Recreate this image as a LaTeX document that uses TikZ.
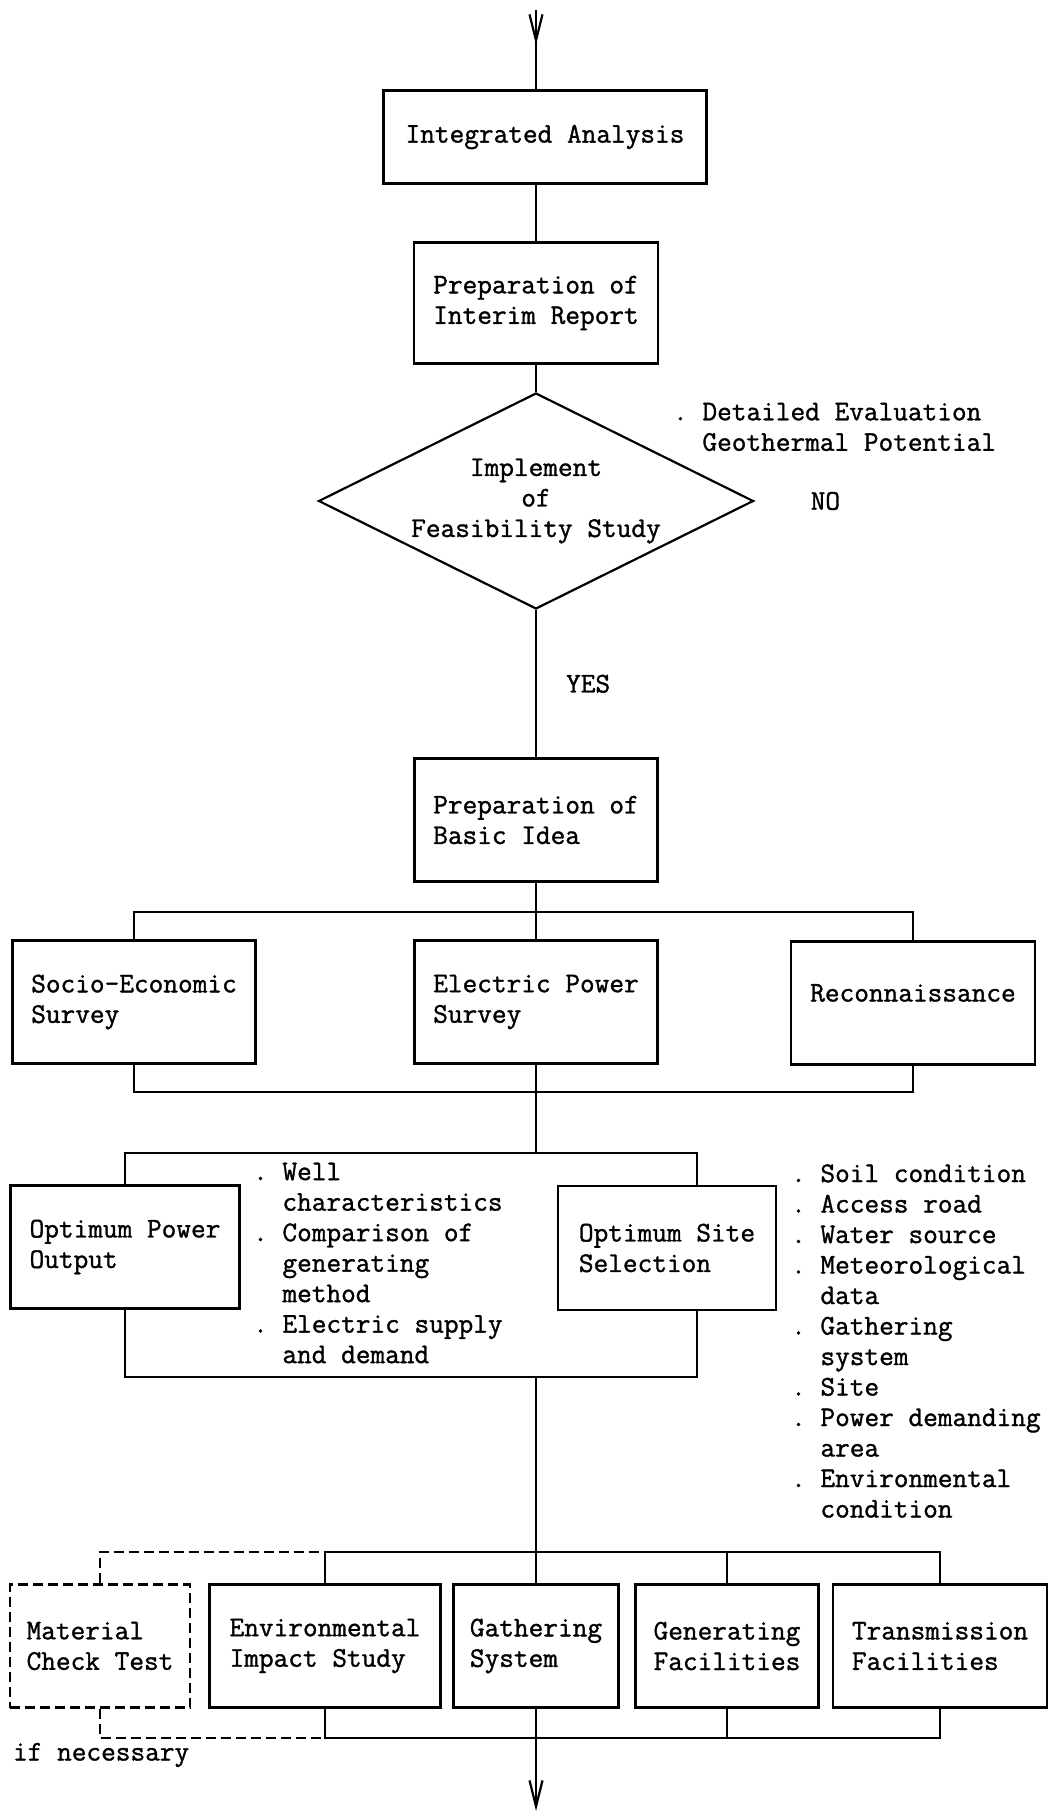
\documentclass[tikz,border=0pt]{standalone}
\usepackage{fontspec}
\setmonofont{Latin Modern Mono}[FakeBold=1.2]
\usepackage{tikz}
\usetikzlibrary{arrows.meta}
\usetikzlibrary{shapes.geometric,positioning}
\usetikzlibrary{decorations.markings}
\newcommand{\indt}{\phantom{.~}}

\begin{document}
\begin{tikzpicture}[x=1pt,y=-1pt,line width=2.2pt,
  every node/.style={inner sep=0pt,font=\ttfamily\fontsize{28.5}{30.5}\selectfont},
  box/.style={draw,rectangle,align=left,minimum height=123pt},
  chkbox/.style={box,dash pattern=on 10pt off 5pt},
  dec/.style={draw,diamond,aspect=2,align=center,minimum width=435pt,minimum height=216pt},
  note/.style={align=left,anchor=west},
  >={Straight Barb[length=26pt,width=13pt]},
  midarrow/.style={postaction={decorate},decoration={markings,mark=at position 0.44 with {\arrow{>}}}}]
\useasboundingbox (0,0) rectangle (1051,1814);
\coordinate (in) at (536,10);
\node[box,minimum width=323pt,minimum height=93pt] (integ) at (545,137) {Integrated Analysis};
\node[box,minimum width=244pt,minimum height=121pt] (interim) at (536,303) {Preparation of\\Interim Report};
\node[dec] (feas) at (536,501) {Implement\\of\\Feasibility Study};
\node[right=55pt of feas.east] (no) {NO};
\node[note] (detl) at (672,427) {.~Detailed Evaluation\\\indt Geothermal Potential};
\node[box,minimum width=243pt] (basic) at (536,820) {Preparation of\\Basic Idea};
% survey row
\coordinate (bus1) at (536,912);
\node[box,minimum width=243pt] (socio) at (134,1002) {Socio-Economic\\Survey};
\node[box,minimum width=243pt] (elec) at (536,1002) {Electric Power\\Survey};
\node[box,minimum width=244pt] (recon) at (913,1003) {\raisebox{10pt}[\height][\depth]{Reconnaissance}};
\coordinate (bus2) at (536,1092);
% optimum row
\coordinate (bus3) at (536,1153);
\node[box,minimum width=229pt] (power) at (125,1247) {Optimum Power\\Output};
\node[box,minimum width=218pt,minimum height=124pt] (site) at (667,1248) {Optimum Site\\Selection};
\coordinate (bus4) at (536,1377);
\node[note] (wellx) at (252,1263) {.~Well\\\indt characteristics\\.~Comparison of\\\indt generating\\\indt method\\.~Electric supply\\\indt and demand};
\node[note] (soilx) at (790,1341) {.~Soil condition\\.~Access road\\.~Water source\\.~Meteorological\\\indt data\\.~Gathering\\\indt system\\.~Site\\.~Power demanding\\\indt area\\.~Environmental\\\indt condition};
% design row
\coordinate (bus5) at (536,1552);
\node[chkbox,minimum width=180pt] (mat) at (100,1646) {Material\\Check Test};
\foreach \nm/\xx/\ww/\txt in {env/325/231/{Environmental\\Impact Study}, gath/536/165/{Gathering\\System},
    gen/727/183/{Generating\\Facilities}, trans/940/214/{Transmission\\Facilities}}
  \node[box,minimum width=\ww pt] (\nm) at (\xx,1646) {\txt};
\coordinate (bus6) at (536,1738);
\coordinate (out) at (536,1811);
\node[note] (ifn) at (12,1755) {if necessary};

\draw[midarrow] (in) -- (in |- integ.north);
\draw (interim.north |- integ.south) -- (interim.north);
\draw (interim) -- (feas);
\draw (feas) -- node[right=29pt] (yes) {YES} (basic);
\draw (socio.north) |- (bus1) -| (recon.north);
\draw (basic) -- (elec);
\draw (socio.south) |- (bus2) -| (recon.south);
\draw (elec.south) -- (bus3);
\draw (power.north) |- (bus3) -| ([xshift=30pt]site.north);
\draw (power.south) |- (bus4) -| ([xshift=30pt]site.south);
\draw (bus4) -- (gath.north);
\draw (env.north) |- (bus5) -| (trans.north);	% upper bus
\draw (gen.north) -- (gen.north |- bus5);
\draw[dash pattern=on 10pt off 5pt] (mat.north) |- (env.north |- bus5);
\draw (env.south) |- (bus6) -| (trans.south);	% lower bus
\draw (gen.south) -- (gen.south |- bus6);
\draw[dash pattern=on 10pt off 5pt] (mat.south) |- (env.south |- bus6);
\draw[->] (gath.south) -- (out);
\end{tikzpicture}
\end{document}
